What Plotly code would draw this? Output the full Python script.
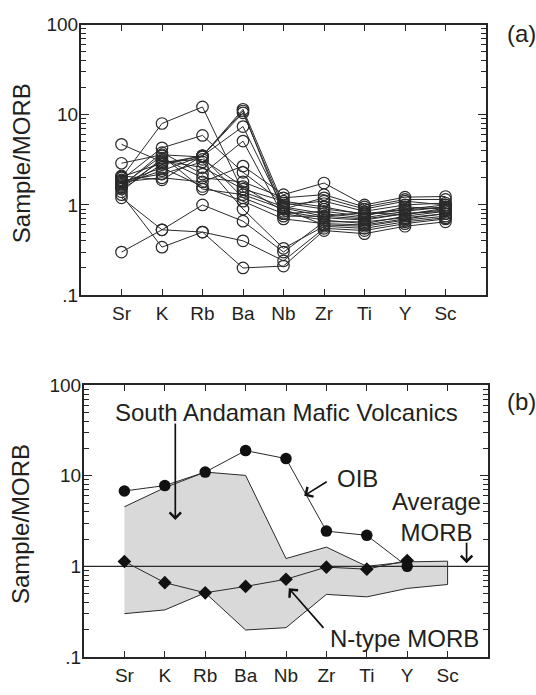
import plotly.graph_objects as go

elements = ["Sr", "K", "Rb", "Ba", "Nb", "Zr", "Ti", "Y", "Sc"]
xpos = list(range(len(elements)))

# Panel (a): South Andaman mafic volcanics, sample/MORB
samples = [
    [4.7, 3.0, 3.2, 1.6, 0.85, 0.72, 0.68, 0.80, 0.88],
    [2.9, 3.6, 3.4, 1.2, 0.80, 0.68, 0.62, 0.75, 0.85],
    [2.0, 8.0, 12.2, 1.4, 0.95, 0.80, 0.72, 0.85, 0.95],
    [1.9, 4.3, 5.9, 2.3, 1.05, 0.90, 0.80, 0.90, 1.00],
    [2.1, 1.9, 3.5, 11.5, 1.00, 1.10, 0.85, 1.00, 1.05],
    [1.7, 2.4, 3.5, 11.0, 0.80, 0.85, 0.75, 0.95, 0.90],
    [1.5, 2.8, 3.5, 7.4, 0.90, 1.20, 0.90, 1.10, 1.00],
    [1.6, 3.8, 2.2, 5.1, 0.75, 0.75, 0.70, 0.80, 0.85],
    [1.8, 2.0, 1.8, 2.7, 1.30, 1.75, 1.00, 1.22, 1.24],
    [1.4, 3.3, 2.0, 1.8, 1.20, 1.30, 0.95, 1.15, 1.15],
    [1.75, 2.6, 1.6, 1.1, 0.70, 0.62, 0.60, 0.70, 0.80],
    [1.55, 3.1, 2.6, 1.5, 1.10, 0.95, 0.78, 0.88, 0.95],
    [1.85, 2.2, 3.0, 0.9, 0.33, 0.58, 0.55, 0.65, 0.72],
    [1.2, 0.53, 1.0, 0.66, 0.30, 0.65, 0.65, 0.72, 0.80],
    [0.30, 0.53, 0.5, 0.40, 0.24, 0.55, 0.52, 0.62, 0.70],
    [1.3, 0.34, 0.5, 0.20, 0.21, 0.52, 0.48, 0.58, 0.65],
    [1.65, 3.5, 1.5, 1.3, 0.90, 0.60, 0.58, 0.68, 0.75],
    [2.05, 2.9, 3.5, 10.5, 0.92, 0.75, 0.82, 0.78, 0.92],
]

# Panel (b)
oib = [6.8, 7.8, 11.0, 19.0, 15.5, 2.45, 2.2, 1.0, None]
n_morb = [1.13, 0.66, 0.51, 0.60, 0.72, 0.98, 0.93, 1.16, None]
env_upper = [4.55, 7.4, 11.0, 10.1, 1.22, 1.63, 1.0, 1.12, 1.14]
env_lower = [0.30, 0.33, 0.51, 0.198, 0.21, 0.49, 0.46, 0.57, 0.63]
avg_morb = 1.0

ytickvals = [0.1, 1, 10, 100]
yticktext = [".1", "1", "10", "100"]
minor_vals = [m * 10 ** e for e in (-1, 0, 1) for m in range(2, 10)]

FONT = "Liberation Sans, Arial, sans-serif"
INK = "#231f20"
LINE = "#2a2a2a"
AX = "#262626"

fig = go.Figure()

for s in samples:
    fig.add_trace(go.Scatter(
        x=xpos, y=s, mode="lines+markers",
        line=dict(color=LINE, width=1),
        marker=dict(symbol="circle-open", size=11.5, color=LINE, line=dict(width=1.2)),
        xaxis="x", yaxis="y", showlegend=False, hoverinfo="skip"))

# Envelope
fig.add_trace(go.Scatter(
    x=xpos + xpos[::-1], y=env_upper + env_lower[::-1],
    mode="lines", fill="toself", fillcolor="#d9d9d9",
    line=dict(color=LINE, width=1),
    xaxis="x2", yaxis="y2", showlegend=False, hoverinfo="skip"))

# Average MORB line
fig.add_trace(go.Scatter(
    x=[-1, len(elements)], y=[avg_morb, avg_morb], mode="lines",
    line=dict(color=LINE, width=1.3),
    xaxis="x2", yaxis="y2", showlegend=False, hoverinfo="skip"))

fig.add_trace(go.Scatter(
    x=xpos, y=oib, mode="lines+markers",
    line=dict(color=LINE, width=1),
    marker=dict(symbol="circle", size=11.5, color="#111"),
    xaxis="x2", yaxis="y2", showlegend=False, hoverinfo="skip"))

fig.add_trace(go.Scatter(
    x=xpos, y=n_morb, mode="lines+markers",
    line=dict(color=LINE, width=1),
    marker=dict(symbol="diamond", size=10.5, color="#111"),
    xaxis="x2", yaxis="y2", showlegend=False, hoverinfo="skip"))

# invisible traces so the minor-tick overlay axes are rendered
for xa, ya in (("x", "y3"), ("x2", "y4")):
    fig.add_trace(go.Scatter(x=[None], y=[None], xaxis=xa, yaxis=ya,
                             showlegend=False, hoverinfo="skip"))

W, H = 536, 695

def xax(domain, anchor):
    return dict(
        domain=domain, anchor=anchor, range=[-1, len(elements)],
        tickvals=xpos, ticktext=elements, ticks="inside", ticklen=6,
        tickcolor=AX, tickwidth=1.3, showline=True, linecolor=AX,
        linewidth=2, mirror="ticks", showgrid=False, zeroline=False,
        tickfont=dict(family=FONT, size=19, color=INK), ticklabelstandoff=0)

def yax(domain, anchor):
    return dict(
        domain=domain, anchor=anchor, type="log", range=[-1, 2],
        tickvals=ytickvals, ticktext=yticktext, ticks="inside", ticklen=8,
        tickcolor=AX, tickwidth=1.3, showline=True, linecolor=AX,
        linewidth=2, mirror="ticks", showgrid=False, zeroline=False,
        tickfont=dict(family=FONT, size=19, color=INK), ticklabelstandoff=-3)

def yminor(over, anchor, domain):
    return dict(
        overlaying=over, anchor=anchor, domain=domain, type="log", range=[-1, 2],
        tickvals=minor_vals, ticks="inside", ticklen=5, tickcolor=AX, tickwidth=1.2,
        showticklabels=False, showline=True, linecolor=AX, linewidth=2,
        mirror="ticks", showgrid=False, zeroline=False)

dom_a = [1 - 294 / H, 1 - 15 / H]
dom_b = [1 - 667 / H, 1 - 387 / H]

fig.update_layout(
    width=W, height=H, margin=dict(l=0, r=0, t=0, b=0),
    paper_bgcolor="white", plot_bgcolor="white",
    xaxis=xax([81 / W, 486 / W], "y"),
    yaxis=yax(dom_a, "x"),
    xaxis2=xax([84 / W, 488 / W], "y2"),
    yaxis2=yax(dom_b, "x2"),
    yaxis3=yminor("y", "x", dom_a),
    yaxis4=yminor("y2", "x2", dom_b),
)

big = dict(family=FONT, size=24, color=INK)
ann = []
# panel labels
ann.append(dict(text="(a)", x=521 / W, y=1 - 24 / H, xref="paper", yref="paper",
                showarrow=False, font=big, xanchor="center", yanchor="middle"))
ann.append(dict(text="(b)", x=521 / W, y=1 - 404 / H, xref="paper", yref="paper",
                showarrow=False, font=big, xanchor="center", yanchor="middle"))
# y titles
ann.append(dict(text="Sample/MORB", x=21 / W, y=1 - 158 / H, xref="paper", yref="paper",
                showarrow=False, font=big, textangle=-90, xanchor="center", yanchor="middle"))
ann.append(dict(text="Sample/MORB", x=21 / W, y=1 - 530 / H, xref="paper", yref="paper",
                showarrow=False, font=big, textangle=-90, xanchor="center", yanchor="middle"))
# panel (b) text labels
ann.append(dict(text="South Andaman Mafic Volcanics", x=286 / W, y=1 - 415 / H,
                xref="paper", yref="paper", showarrow=False, font=big,
                xanchor="center", yanchor="middle"))
ann.append(dict(text="OIB", x=357 / W, y=1 - 483 / H, xref="paper", yref="paper",
                showarrow=False, font=big, xanchor="center", yanchor="middle"))
ann.append(dict(text="Average<br>MORB", x=436 / W, y=1 - 523 / H, xref="paper", yref="paper",
                showarrow=False, font=big, xanchor="center", yanchor="middle"))
ann.append(dict(text="N-type MORB", x=404 / W, y=1 - 648 / H, xref="paper", yref="paper",
                showarrow=False, font=big, xanchor="center", yanchor="middle"))

# arrows (tip in data coords of panel b, tail offset in px)
def arrow(xd, ylog, ax, ay):
    return dict(x=xd, y=ylog, xref="x2", yref="y2", text="", showarrow=True,
                ax=ax, ay=ay, arrowhead=4, arrowsize=1.3, arrowwidth=1.7,
                arrowcolor="#111", standoff=0)

ann.append(arrow(1.26, 0.513, 0, -98))
ann.append(arrow(4.45, 0.78, 24, -15))
ann.append(arrow(8.47, 0.035, 0, -22))
ann.append(arrow(4.07, -0.243, 36, 41))

fig.update_layout(annotations=ann)

fig.write_html("out.html")
